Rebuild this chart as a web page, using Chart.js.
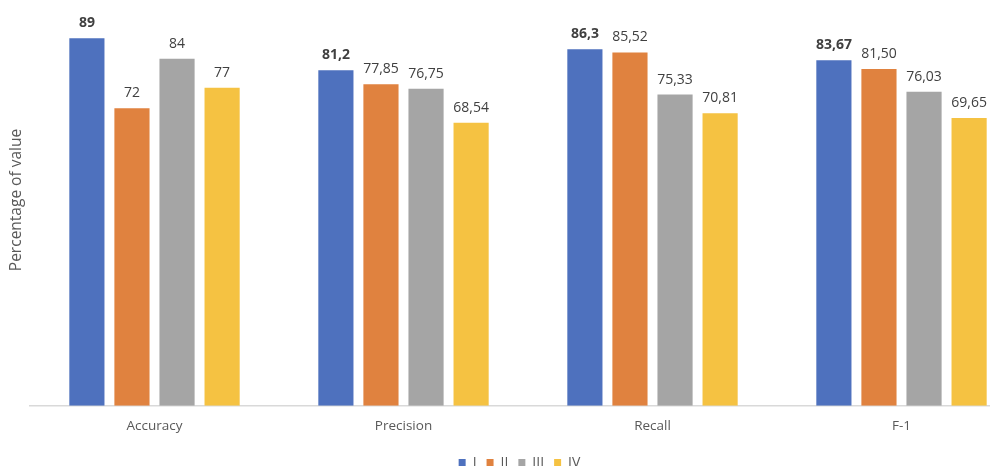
<!DOCTYPE html>
<html>
<head>
<meta charset="utf-8">
<script src="https://cdn.jsdelivr.net/npm/chart.js@4/dist/chart.umd.min.js"></script>
<style>
  html, body { margin: 0; padding: 0; background: #fff; overflow: hidden; }
  #wrap { width: 990px; height: 466px; overflow: hidden; }
</style>
</head>
<body>
<div id="wrap"><canvas id="chart" width="1030" height="480"></canvas></div>
<script>
// Chart data
const categories = ['Accuracy', 'Precision', 'Recall', 'F-1'];
const seriesNames = ['I', 'II', 'III', 'IV'];

const valuesI = [89, 81.2, 86.3, 83.67];
const valuesII = [72, 77.85, 85.52, 81.50];
const valuesIII = [84, 76.75, 75.33, 76.03];
const valuesIV = [77, 68.54, 70.81, 69.65];

// label text as printed on the bars (comma decimals)
const labelsI = ['89', '81,2', '86,3', '83,67'];
const labelsII = ['72', '77,85', '85,52', '81,50'];
const labelsIII = ['84', '76,75', '75,33', '76,03'];
const labelsIV = ['77', '68,54', '70,81', '69,65'];

const yTitle = 'Percentage of value';

const colors = ['#4E71BE', '#E0823F', '#A5A5A5', '#F5C242'];

const allValues = [valuesI, valuesII, valuesIII, valuesIV];
const allLabels = [labelsI, labelsII, labelsIII, labelsIV];

// Draw value labels above each bar
const barLabels = {
  id: 'barLabels',
  afterDatasetsDraw(chart) {
    const ctx = chart.ctx;
    chart.data.datasets.forEach((ds, i) => {
      const meta = chart.getDatasetMeta(i);
      if (meta.hidden) return;
      meta.data.forEach((bar, j) => {
        ctx.save();
        ctx.font = (i === 0 ? 'bold ' : '') + "14px 'Open Sans'";
        ctx.fillStyle = '#404040';
        ctx.textAlign = 'center';
        ctx.textBaseline = 'middle';
        ctx.fillText(allLabels[i][j], bar.x, bar.y - 15);
        ctx.restore();
      });
    });
  }
};

// Vertical axis title, placed like the original (a bit above the plot centre)
const sideTitle = {
  id: 'sideTitle',
  afterDraw(chart) {
    const ctx = chart.ctx;
    ctx.save();
    ctx.translate(17, 200);
    ctx.rotate(-Math.PI / 2);
    ctx.font = "15.5px 'Open Sans'";
    ctx.fillStyle = '#595959';
    ctx.textAlign = 'center';
    ctx.textBaseline = 'middle';
    ctx.fillText(yTitle, 0, 0);
    ctx.restore();
  }
};

new Chart(document.getElementById('chart'), {
  type: 'bar',
  data: {
    labels: categories,
    datasets: seriesNames.map((name, i) => ({
      label: name,
      data: allValues[i],
      backgroundColor: colors[i],
      borderWidth: 0,
      categoryPercentage: 0.724,
      barPercentage: 0.78
    }))
  },
  options: {
    responsive: false,
    animation: false,
    devicePixelRatio: 1,
    layout: { padding: { top: 34, left: 13, right: 4, bottom: 0 } },
    plugins: {
      tooltip: { enabled: false },
      legend: {
        position: 'bottom',
        labels: {
          boxWidth: 7,
          boxHeight: 8,
          padding: 10,
          color: '#595959',
          font: { family: "'Open Sans'", size: 14 }
        }
      }
    },
    scales: {
      x: {
        grid: { display: false, drawTicks: false },
        border: { display: true, color: '#D9D9D9', width: 1.5 },
        ticks: {
          padding: 12,
          color: '#595959',
          font: { family: "'Open Sans'", size: 13.5 }
        }
      },
      y: {
        min: 0,
        max: 90,
        grid: { display: false, drawTicks: false },
        border: { display: false },
        ticks: { display: false },
        // empty strip where the side title is drawn
        afterFit(scale) { scale.width = 17; }
      }
    }
  },
  plugins: [barLabels, sideTitle]
});
</script>
</body>
</html>
